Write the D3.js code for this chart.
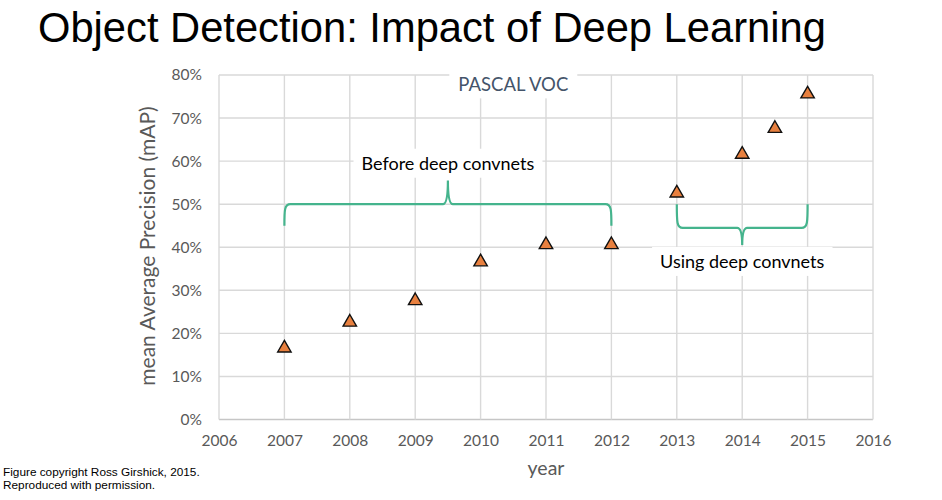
<!DOCTYPE html>
<html><head><meta charset="utf-8">
<script src="https://cdn.jsdelivr.net/npm/d3@7"></script>
<style>body{margin:0;background:#fff} svg{display:block}</style>
</head><body>
<svg id="chart" width="942" height="500"></svg>
<script>
// ---- data ----
const years = [2007, 2008, 2009, 2010, 2011, 2012, 2013, 2014, 2014.5, 2015];
const mAP   = [0.17, 0.23, 0.28, 0.37, 0.41, 0.41, 0.53, 0.62, 0.68, 0.76];
const xTicks = [2006, 2007, 2008, 2009, 2010, 2011, 2012, 2013, 2014, 2015, 2016];
const yTicks = [0, 0.1, 0.2, 0.3, 0.4, 0.5, 0.6, 0.7, 0.8];
const titleText = "Object Detection: Impact of Deep Learning";
const xLabel = "year";
const yLabel = "mean Average Precision (mAP)";
const seriesLabel = "PASCAL VOC";
const creditLines = ["Figure copyright Ross Girshick, 2015.", "Reproduced with permission."];
const bracketLabels = ["Before deep convnets", "Using deep convnets"];
const bracketFrom = [2007, 2013];
const bracketTo   = [2012, 2015];
const bracketMid  = [2009.5, 2014];
const bracketEnd  = [0.45, 0.50];
const bracketBar  = [0.50, 0.445];
const bracketTip  = [0.555, 0.405];
const bracketTextY = [0.58, 0.352];

// ---- drawing ----
const svg = d3.select("#chart");
const x = d3.scaleLinear().domain([2006, 2016]).range([219, 873]);
const y = d3.scaleLinear().domain([0, 0.8]).range([419.5, 75]);
const gray = "#595959", green = "#45B48D", grid = "#D9D9D9";
const chartFont = "Lato, 'Open Sans', sans-serif";

// title
svg.append("text").attr("x", 38).attr("y", 42)
  .attr("font-family", "'Liberation Sans', Arial, sans-serif").attr("font-size", 41.7)
  .attr("fill", "#000").text(titleText);

// grid
const g = svg.append("g");
g.selectAll(".hg").data(yTicks).join("line")
  .attr("x1", x(2006)).attr("x2", x(2016))
  .attr("y1", d => y(d)).attr("y2", d => y(d))
  .attr("stroke", d => d === 0 ? "#C6C6C6" : grid).attr("stroke-width", 1.4);
g.selectAll(".vg").data(xTicks).join("line")
  .attr("x1", d => x(d)).attr("x2", d => x(d))
  .attr("y1", y(0.8)).attr("y2", y(0))
  .attr("stroke", grid).attr("stroke-width", 1.4);

// axes
const yAxis = svg.append("g").attr("transform", `translate(${x(2006)},0)`)
  .call(d3.axisLeft(y).tickValues(yTicks).tickSize(0).tickPadding(17)
    .tickFormat(d3.format(".0%")));
const xAxis = svg.append("g").attr("transform", `translate(0,${y(0)})`)
  .call(d3.axisBottom(x).tickValues(xTicks).tickSize(0).tickPadding(15)
    .tickFormat(d3.format("d")));
[yAxis, xAxis].forEach(a => {
  a.select(".domain").remove();
  a.selectAll("text").attr("fill", gray).attr("font-family", chartFont).attr("font-size", 15.5);
});

// axis titles
svg.append("text").attr("x", 546).attr("y", 475).attr("text-anchor", "middle")
  .attr("font-family", chartFont).attr("font-size", 19.5).attr("fill", gray).text(xLabel);
svg.append("text").attr("transform", `translate(155,246) rotate(-90)`)
  .attr("text-anchor", "middle").attr("font-family", chartFont).attr("font-size", 21)
  .attr("fill", gray).text(yLabel);

// labels with white background boxes
function boxedText(cx, by, txt, color, size, padX, padTop, padBot) {
  const t = svg.append("text").attr("x", cx).attr("y", by).attr("text-anchor", "middle")
    .attr("font-family", chartFont).attr("font-size", size).attr("fill", color).text(txt);
  const b = t.node().getBBox();
  svg.insert("rect", () => t.node())
    .attr("x", b.x - padX).attr("y", b.y - padTop)
    .attr("width", b.width + 2 * padX).attr("height", b.height + padTop + padBot)
    .attr("fill", "#fff");
  return t;
}
boxedText(x(2010.5), y(0.762), seriesLabel, "#44546A", 18.5, 9, 5, 3);
bracketLabels.forEach((lbl, i) => {
  boxedText(x(bracketMid[i]), y(bracketTextY[i]), lbl, "#000", 18, 8, 3, 4);
});

// brackets
function bracePath(i) {
  const x0 = x(bracketFrom[i]), x1 = x(bracketTo[i]), xm = x(bracketMid[i]);
  const ye = y(bracketEnd[i]), yb = y(bracketBar[i]), yt = y(bracketTip[i]);
  const s = Math.sign(ye - yb); // direction from bar toward ends
  const r = 6, q = 5;
  const p = d3.path();
  p.moveTo(x0, ye);
  p.bezierCurveTo(x0, yb + s * r, x0, yb, x0 + r, yb);
  p.lineTo(xm - q, yb);
  p.quadraticCurveTo(xm, yb, xm, yt);
  p.quadraticCurveTo(xm, yb, xm + q, yb);
  p.lineTo(x1 - r, yb);
  p.bezierCurveTo(x1, yb, x1, yb + s * r, x1, ye);
  return p.toString();
}
svg.selectAll(".brace").data(bracketLabels).join("path")
  .attr("d", (d, i) => bracePath(i))
  .attr("fill", "none").attr("stroke", green).attr("stroke-width", 2.2);

// markers
const tri = d3.symbol().type(d3.symbolTriangle).size(78);
svg.selectAll(".pt").data(years).join("path")
  .attr("d", tri)
  .attr("transform", (d, i) => `translate(${x(d)},${y(mAP[i]) + 1.8})`)
  .attr("fill", "#E8803F").attr("stroke", "#111").attr("stroke-width", 1.4);

// credit
creditLines.forEach((c, i) => {
  svg.append("text").attr("x", 3).attr("y", 476 + i * 13)
    .attr("font-family", "'Liberation Sans', Arial, sans-serif").attr("font-size", 11.8)
    .attr("fill", "#000").text(c);
});
</script>
</body></html>
